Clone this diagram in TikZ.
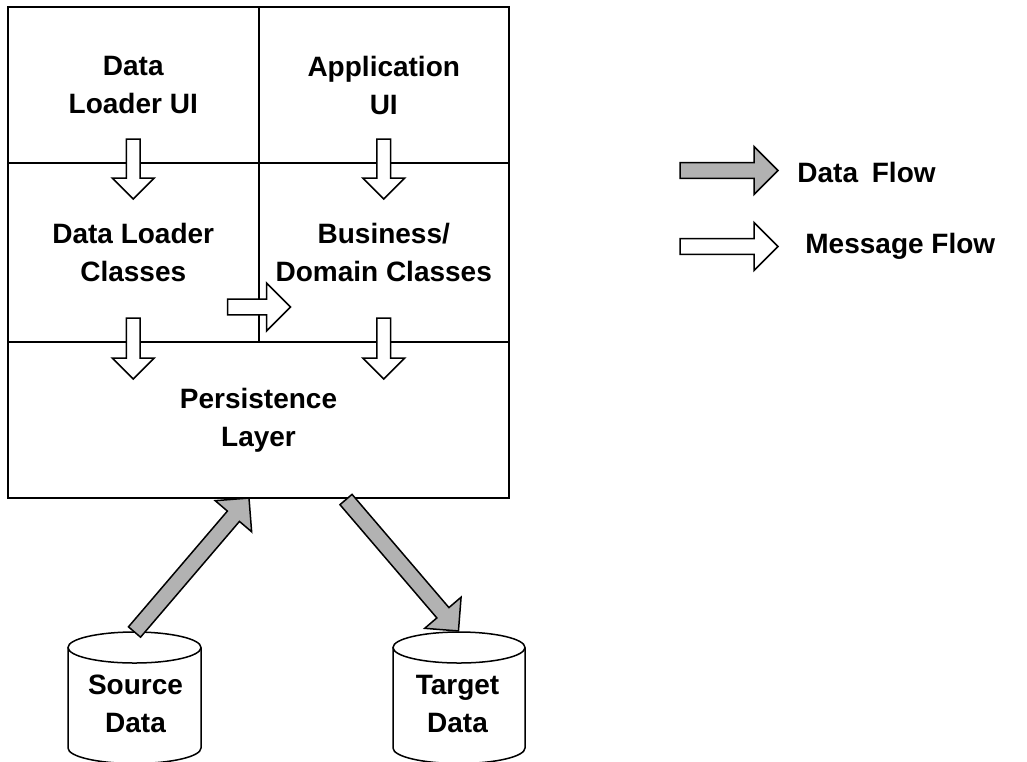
\documentclass[tikz,border=0pt]{standalone}
\usepackage{fontspec}
\setmainfont{Liberation Sans}
\usetikzlibrary{shapes.arrows,calc,positioning}

\tikzset{
  cell/.style={draw, line width=1pt, outer sep=0pt, inner sep=0pt, align=center,
    minimum width=125.25pt, font=\bfseries\fontsize{14}{19}\selectfont},
  label/.style={inner sep=0pt, align=center, font=\bfseries\fontsize{14}{19}\selectfont},
  flow/.style={single arrow, draw, line width=0.75pt, inner sep=3.6pt, outer sep=0pt,
    single arrow head extend=8pt, single arrow tip angle=90, anchor=tail},
  dataflow/.style={flow, fill=gray!60},
  msgflow/.style={flow, fill=white},
  smallmsg/.style={msgflow, inner sep=3.1pt, single arrow head extend=7pt},
  store/.style={draw, line width=0.75pt, fill=white}
}

% block arrow from tail #2 to tip #3
\newcommand{\flowarrow}[3]{%
  \path let \p1=(#2), \p2=(#3) in
    node[#1, rotate={atan2((\y2)-(\y1),(\x2)-(\x1))},
      minimum height={veclen((\x2)-(\x1),(\y2)-(\y1))}] at (\p1) {};}

\begin{document}
\begin{tikzpicture}[x=0.5pt, y=-0.5pt]
\useasboundingbox (0,0) rectangle (1027,761);

% layers
\node[cell, minimum height=78pt] (dlui) at (133.25,85) {Data\\Loader UI};
\node[cell, minimum height=78pt, right=0pt of dlui] (appui) {Application\\UI};
\node[cell, minimum height=89.5pt, below=0pt of dlui] (dlcls) {Data Loader\\Classes};
\node[cell, minimum height=89.5pt, right=0pt of dlcls] (bizcls) {Business/\\Domain Classes};
\node[cell, minimum height=78pt, minimum width=250.5pt,
  below right=0pt and 0pt of dlcls.south west] (persist) {Persistence\\Layer};

% message flow
\flowarrow{smallmsg}{$(dlui.south)+(0,-24)$}{$(dlui.south)+(0,36)$}
\flowarrow{smallmsg}{$(appui.south)+(0,-24)$}{$(appui.south)+(0,36)$}
\flowarrow{smallmsg}{$(dlcls.south)+(0,-24)$}{$(dlcls.south)+(0,37)$}
\flowarrow{smallmsg}{$(bizcls.south)+(0,-24)$}{$(bizcls.south)+(0,37)$}
\flowarrow{msgflow}{$(dlcls.east)+(-31,54.5)$}{$(dlcls.east)+(32,54.5)$}

% data stores
\draw[store] (68,647.5) -- (68,748) arc[start angle=180, end angle=360,
  x radius=33.25pt, y radius=7.75pt] -- (201,647.5);
\draw[store] (134.5,647.5) ellipse [x radius=33.25pt, y radius=7.75pt];
\node[label] (src) at (135.5,704) {Source\\Data};
\coordinate (srctop) at (134.5,632);

\draw[store] (393,647.5) -- (393,748) arc[start angle=180, end angle=360,
  x radius=33pt, y radius=7.75pt] -- (525,647.5);
\draw[store] (459,647.5) ellipse [x radius=33pt, y radius=7.75pt];
\node[label] (tgt) at (457.5,704) {Target\\Data};
\coordinate (tgttop) at (458.5,631);

% data flow
\flowarrow{dataflow}{srctop}{$(persist.south)+(-9.5,0)$}
\flowarrow{dataflow}{$(persist.south)+(87.5,1.5)$}{tgttop}

% legend
\coordinate (dfa) at (680,170.5);
\coordinate (dfb) at (778,170.5);
\coordinate (mfa) at (680,246.5);
\coordinate (mfb) at (778,246.5);
\flowarrow{dataflow}{dfa}{dfb}
\flowarrow{msgflow}{mfa}{mfb}
\node[label, anchor=west] (dflbl) at (797,172) {Data \hspace{3pt}Flow};
\node[label, anchor=west] (mflbl) at (805,246) {Message Flow};
\end{tikzpicture}
\end{document}
